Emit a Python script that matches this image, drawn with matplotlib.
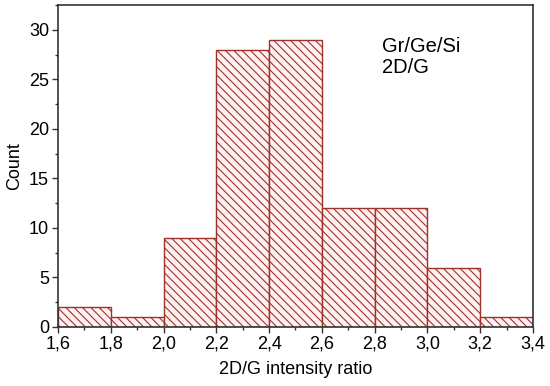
import numpy as np
import matplotlib.pyplot as plt
from matplotlib.ticker import MultipleLocator

plt.rcParams['font.family'] = ['Liberation Sans', 'DejaVu Sans']
plt.rcParams['hatch.color'] = '#c03030'
plt.rcParams['hatch.linewidth'] = 0.8

# bin edges and counts
bin_edges = [1.6, 1.8, 2.0, 2.2, 2.4, 2.6, 2.8, 3.0, 3.2, 3.4]
counts = [2, 1, 9, 28, 29, 12, 12, 6, 1]
xtick_labels = ['1,6', '1,8', '2,0', '2,2', '2,4', '2,6', '2,8', '3,0', '3,2', '3,4']

fig = plt.figure(figsize=(5.5, 3.86), dpi=100)
ax = fig.add_axes([0.1055, 0.153, 0.8635, 0.834])

lefts = np.array(bin_edges[:-1])
widths = np.diff(bin_edges)
ax.bar(lefts, counts, width=widths, align='edge', facecolor='#fff2f2',
       edgecolor='#a0302a', linewidth=1.0, hatch='\\\\\\\\')

ax.set_xlim(1.6, 3.4)
ax.set_ylim(0, 32.5)
ax.set_xticks(bin_edges)
ax.set_xticklabels(xtick_labels)
ax.xaxis.set_minor_locator(MultipleLocator(0.1))
ax.yaxis.set_major_locator(MultipleLocator(5))
ax.yaxis.set_minor_locator(MultipleLocator(2.5))
ax.tick_params(which='both', direction='out', top=False, right=False,
               labelsize=13, width=1.0, color='#333333')
ax.tick_params(which='major', length=4, pad=2.5)
ax.tick_params(which='minor', length=2.5)
for s in ax.spines.values():
    s.set_linewidth(1.2)
    s.set_color('#333333')

ax.set_xlabel('2D/G intensity ratio', fontsize=13, labelpad=6)
ax.set_ylabel('Count', fontsize=13, labelpad=4)

ax.text(0.682, 0.9, 'Gr/Ge/Si\n2D/G', transform=ax.transAxes,
        fontsize=14.5, va='top', ha='left', linespacing=1.15)

fig.savefig('out.png', dpi=100)
